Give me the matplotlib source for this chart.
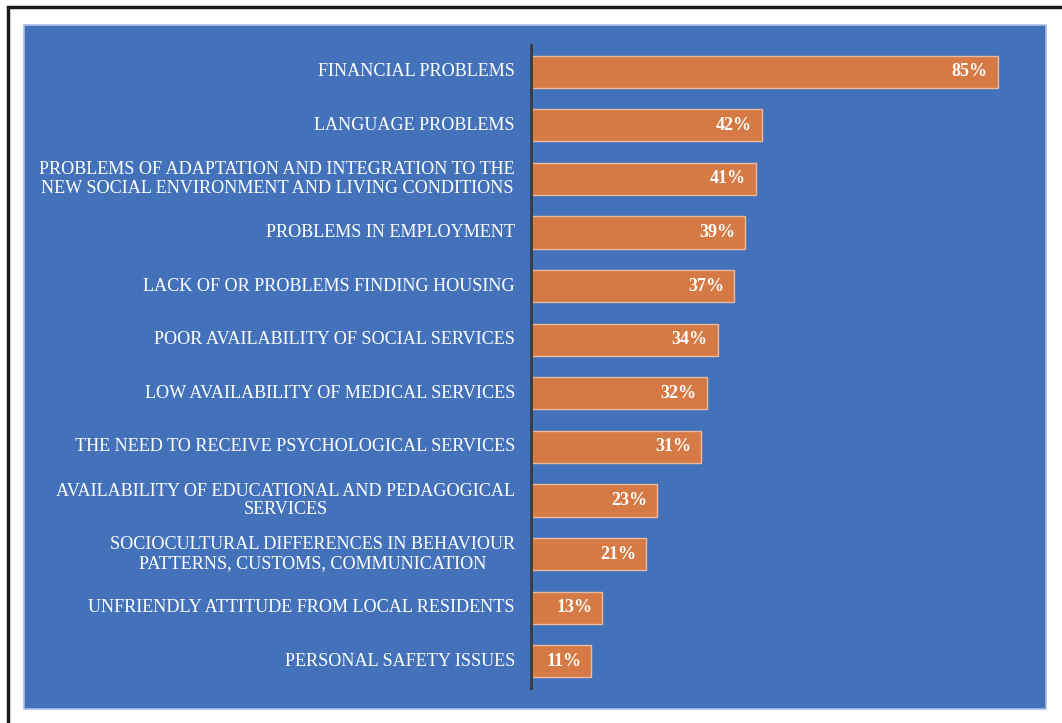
import matplotlib.pyplot as plt
import matplotlib.patches as patches
import matplotlib.transforms as transforms

categories = [
    "FINANCIAL PROBLEMS",
    "LANGUAGE PROBLEMS",
    "PROBLEMS OF ADAPTATION AND INTEGRATION TO THE\nNEW SOCIAL ENVIRONMENT AND LIVING CONDITIONS",
    "PROBLEMS IN EMPLOYMENT",
    "LACK OF OR PROBLEMS FINDING HOUSING",
    "POOR AVAILABILITY OF SOCIAL SERVICES",
    "LOW AVAILABILITY OF MEDICAL SERVICES",
    "THE NEED TO RECEIVE PSYCHOLOGICAL SERVICES",
    "AVAILABILITY OF EDUCATIONAL AND PEDAGOGICAL\nSERVICES",
    "SOCIOCULTURAL DIFFERENCES IN BEHAVIOUR\nPATTERNS, CUSTOMS, COMMUNICATION",
    "UNFRIENDLY ATTITUDE FROM LOCAL RESIDENTS",
    "PERSONAL SAFETY ISSUES",
]
values = [85, 42, 41, 39, 37, 34, 32, 31, 23, 21, 13, 11]

W, H = 1062, 723
blue = '#4472BA'
orange = '#D67A45'

fig = plt.figure(figsize=(W / 100, H / 100), dpi=100)
fig.patch.set_facecolor('white')

# outer black frame (cut off at right and bottom like the source)
fig.patches.append(patches.Rectangle((8 / W, -0.1), 1.1, 1 - 7 / H + 0.1,
                                     transform=fig.transFigure, fill=False,
                                     edgecolor='#1a1a1a', linewidth=2.5, zorder=-2))
# blue chart area
fig.patches.append(patches.Rectangle((24 / W, 1 - 709 / H), (1046 - 24) / W, (709 - 25) / H,
                                     transform=fig.transFigure, facecolor=blue,
                                     edgecolor='#A9BEE6', linewidth=1.2, zorder=-1))

left, right = 531, 531 + 90 * (998 - 531) / 85
top, bottom = 45, 688
ax = fig.add_axes([left / W, 1 - bottom / H, (right - left) / W, (bottom - top) / H])
ax.set_facecolor('none')

y = list(range(len(categories)))
ax.barh(y, values, height=0.6, color=orange, edgecolor='#E9B9A0', linewidth=1)
ax.set_xlim(0, 90)
ax.set_ylim(len(categories) - 0.5, -0.5)

for s in ['top', 'right', 'bottom']:
    ax.spines[s].set_visible(False)
ax.spines['left'].set_color('#3a3a3a')
ax.spines['left'].set_linewidth(2)
ax.set_xticks([])
ax.set_yticks([])

trans = transforms.blended_transform_factory(ax.transAxes, ax.transData)
for i, (cat, v) in enumerate(zip(categories, values)):
    ax.text(-16 / (right - left), i, cat, transform=trans, ha='right', va='center',
            multialignment='center', color='white', fontsize=13.1,
            family='Liberation Serif', linespacing=1.1)
    off = transforms.offset_copy(ax.transData, fig=fig, x=-10, y=0, units='dots')
    ax.text(v, i, f"{v}%", transform=off, ha='right', va='center', color='white',
            fontsize=13, fontweight='bold', family='Liberation Serif')

fig.savefig('out.png', dpi=100)
